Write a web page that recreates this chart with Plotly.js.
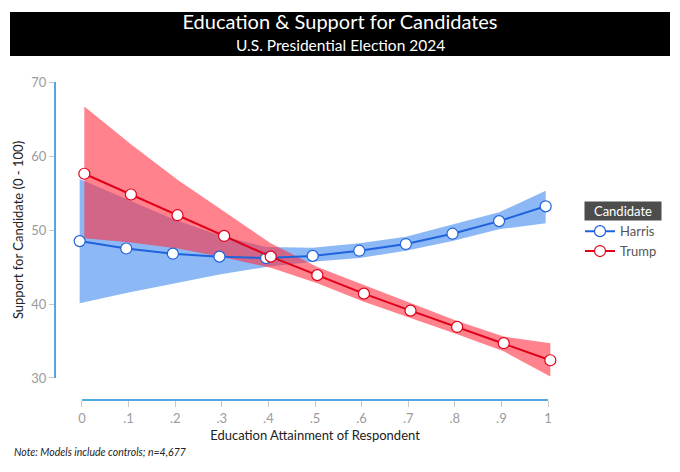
<!DOCTYPE html>
<html>
<head>
<meta charset="utf-8">
<script src="https://cdn.plot.ly/plotly-3.0.1.min.js"></script>
<style>
  html, body { margin: 0; padding: 0; background: #fff; }
  #chart { width: 680px; height: 472px; }
</style>
</head>
<body>
<div id="chart"></div>
<script>
// education attainment (0 - 1) and predicted support with 95% bands
const education = [0, 0.1, 0.2, 0.3, 0.4, 0.5, 0.6, 0.7, 0.8, 0.9, 1];
const tickLabels = ["0", ".1", ".2", ".3", ".4", ".5", ".6", ".7", ".8", ".9", "1"];

const harris   = [48.5, 47.5, 46.8, 46.4, 46.2, 46.5, 47.2, 48.1, 49.5, 51.2, 53.2];
const harrisLo = [40.1, 41.5, 42.8, 44.0, 45.0, 45.7, 46.2, 47.2, 48.5, 50.1, 50.9];
const harrisHi = [56.9, 54.2, 51.5, 49.3, 47.7, 47.6, 48.2, 49.1, 50.7, 52.4, 55.3];

const trump   = [57.6, 54.8, 52.0, 49.2, 46.4, 43.9, 41.4, 39.1, 36.9, 34.7, 32.4];
const trumpLo = [48.9, 48.3, 47.5, 46.3, 44.9, 42.8, 40.3, 38.1, 35.9, 33.6, 30.2];
const trumpHi = [66.7, 61.6, 56.8, 52.5, 48.2, 45.0, 42.6, 40.1, 37.7, 35.6, 34.7];

const FONT = "Lato, 'Noto Sans', sans-serif";
const AXIS_BLUE = "#55a8dd";
const dodge = 0.005;

const Band = (xs, lo, hi, color) => ({
    x: xs.concat(xs.slice().reverse()),
    y: hi.concat(lo.slice().reverse()),
    type: "scatter",
    mode: "lines",
    fill: "toself",
    fillcolor: color,
    line: {width: 0},
    hoverinfo: "skip",
    showlegend: false
});

const Series = (name, xs, ys, color) => ({
    name: name,
    x: xs,
    y: ys,
    type: "scatter",
    mode: "lines+markers",
    line: {color: color, width: 2},
    marker: {size: 11, color: "#fff", line: {color: color, width: 1.2}},
    cliponaxis: false
});

const xHarris = education.map(v => v - dodge);
const xTrump = education.map(v => v + dodge);

const data = [
    Band(xHarris, harrisLo, harrisHi, "rgba(63,138,238,0.6)"),
    Band(xTrump, trumpLo, trumpHi, "rgba(255,47,63,0.6)"),
    Series("Harris", xHarris, harris, "#1f62dc"),
    Series("Trump", xTrump, trump, "#e0001b")
];

const layout = {
    width: 680,
    height: 472,
    margin: {l: 55, r: 125, t: 82, b: 72},
    paper_bgcolor: "#fff",
    plot_bgcolor: "#fff",
    font: {family: FONT, color: "#222"},
    title: {
        text: "Education & Support for Candidates",
        font: {family: FONT, size: 20, color: "#fff"},
        xref: "container", x: 0.5, xanchor: "center",
        yref: "container", y: 0.953, yanchor: "middle"
    },
    xaxis: {
        domain: [0.04, 1],
        range: [-0.015, 1.015],
        anchor: "free",
        position: 0,
        tickvals: education,
        ticktext: tickLabels,
        ticks: "outside",
        ticklen: 6,
        tickcolor: "#c8c8c8",
        tickfont: {family: FONT, size: 13, color: "#9b9b9b"},
        showgrid: false,
        zeroline: false,
        showline: false,
        title: {
            text: "Education Attainment of Respondent",
            font: {family: FONT, size: 13, color: "#222"},
            standoff: 6
        }
    },
    yaxis: {
        domain: [0.0692, 1],
        range: [30, 70],
        anchor: "free",
        position: 0,
        tickvals: [30, 40, 50, 60, 70],
        ticks: "outside",
        ticklen: 5,
        tickcolor: "#c8c8c8",
        tickfont: {family: FONT, size: 13, color: "#9b9b9b"},
        showgrid: false,
        zeroline: false,
        showline: true,
        linecolor: AXIS_BLUE,
        linewidth: 2,
        title: {
            text: "Support for Candidate (0 - 100)",
            font: {family: FONT, size: 13, color: "#222"},
            standoff: 4
        }
    },
    legend: {
        x: 1.05, y: 0.578, xanchor: "left", yanchor: "top",
        font: {family: FONT, size: 13, color: "#555"},
        bgcolor: "rgba(0,0,0,0)",
        tracegroupgap: 2
    },
    shapes: [
        // title bar
        {type: "rect", xref: "paper", yref: "paper", x0: -0.09, x1: 1.23, y0: 1.0818, y1: 1.2201,
         fillcolor: "#000", line: {width: 0}, layer: "below"},
        // detached x axis line
        {type: "line", xref: "x", yref: "paper", x0: 0, x1: 1, y0: 0, y1: 0,
         line: {color: AXIS_BLUE, width: 2}}
    ],
    annotations: [
        {text: "U.S. Presidential Election 2024", xref: "paper", yref: "paper", x: 0.57, y: 1.1164,
         xanchor: "center", yanchor: "middle", showarrow: false,
         font: {family: FONT, size: 15.5, color: "#fff"}},
        {text: "Candidate", xref: "paper", yref: "paper", x: 1.136, y: 0.594,
         xanchor: "center", yanchor: "middle", showarrow: false,
         font: {family: FONT, size: 13, color: "#fff"}, bgcolor: "#4d4d4d", width: 74, borderpad: 1},
        {text: "<i>Note: Models include controls; n=4,677</i>", xref: "paper", yref: "paper",
         x: -0.086, y: -0.1635, xanchor: "left", yanchor: "middle", showarrow: false,
         font: {family: FONT, size: 10.5, color: "#222"}}
    ]
};

Plotly.newPlot("chart", data, layout, {displayModeBar: false, staticPlot: true});
</script>
</body>
</html>
